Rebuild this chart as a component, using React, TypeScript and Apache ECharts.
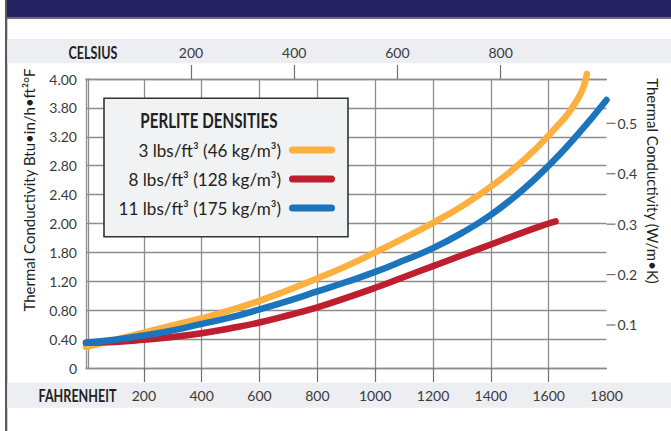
import React, { useEffect, useRef } from "react";
import * as echarts from "echarts";

// Fahrenheit sample positions for each curve
const fLight = [0, 100, 200, 300, 400, 500, 600, 700, 800, 900, 1000, 1100, 1200, 1300, 1400, 1500, 1600, 1700, 1732];
const kLight = [0.29, 0.39, 0.49, 0.59, 0.69, 0.8, 0.93, 1.08, 1.24, 1.41, 1.6, 1.8, 2.01, 2.24, 2.51, 2.83, 3.22, 3.72, 4.07];

const fMedium = [0, 100, 200, 300, 400, 500, 600, 700, 800, 900, 1000, 1100, 1200, 1300, 1400, 1500, 1600, 1624];
const kMedium = [0.35, 0.36, 0.39, 0.43, 0.48, 0.55, 0.63, 0.73, 0.84, 0.97, 1.11, 1.26, 1.41, 1.56, 1.71, 1.86, 2.0, 2.03];

const fHeavy = [0, 100, 200, 300, 400, 500, 600, 700, 800, 900, 1000, 1100, 1200, 1300, 1400, 1500, 1600, 1700, 1800];
const kHeavy = [0.35, 0.39, 0.45, 0.52, 0.61, 0.7, 0.81, 0.93, 1.06, 1.19, 1.33, 1.49, 1.66, 1.87, 2.12, 2.43, 2.8, 3.23, 3.71];

const seriesNames = ["3 lbs/ft³ (46 kg/m³)", "8 lbs/ft³ (128 kg/m³)", "11 lbs/ft³ (175 kg/m³)"];
const seriesColors = ["#fbb040", "#be1e2d", "#1c75bc"];

// Tick labels as printed on the original
const yTickLabels = ["0", "0.40", "0.80", "1.20", "1.80", "2.00", "2.40", "2.80", "3.20", "3.80", "4.00"];
const fahrenheitTicks = [200, 400, 600, 800, 1000, 1200, 1400, 1600, 1800];
const fahrenheitTickMarks = [200, 400, 600, 800, 1000, 1200, 1400, 1600];
const celsiusTicks = [200, 400, 600, 800];
const wmkTicks = [0.1, 0.2, 0.3, 0.4, 0.5];

const FONT = "Lato, 'Open Sans', sans-serif";
const GRID = "#8d8d8d";
const LABEL = "#3a3a3c";
const TICK = "#6d6e71";

const pairs = (xs: number[], ys: number[]) => xs.map((x, i) => [x, ys[i]]);

export default function App() {
  const ref = useRef<HTMLDivElement>(null);
  useEffect(() => {
    if (!ref.current) return;
    const chart = echarts.init(ref.current, null, { renderer: "svg" });
    const data = [pairs(fLight, kLight), pairs(fMedium, kMedium), pairs(fHeavy, kHeavy)];
    const legendRowsY = [150, 179, 208];
    const baseGraphic: any[] = [
      { type: "rect", z: -10, shape: { x: 5, y: 0, width: 2.3, height: 431 }, style: { fill: "#58595b" } },
      { type: "rect", z: -10, shape: { x: 7, y: 0, width: 664, height: 17 }, style: { fill: "#262262" } },
      { type: "rect", z: -10, shape: { x: 7, y: 17, width: 664, height: 2 }, style: { fill: "#6d6e71" } },
      { type: "rect", z: -10, shape: { x: 7.3, y: 39, width: 664, height: 24.3 }, style: { fill: "#eceef1" } },
      { type: "rect", z: -10, shape: { x: 7.3, y: 382.7, width: 664, height: 25 }, style: { fill: "#eceef1" } },
      {
        type: "text", z: 10, x: 93, y: 52, scaleX: 0.74,
        style: { text: "CELSIUS", fill: "#231f20", font: `bold 17px ${FONT}`, textAlign: "center", textVerticalAlign: "middle" },
      },
      {
        type: "text", z: 10, x: 77.5, y: 395, scaleX: 0.74,
        style: { text: "FAHRENHEIT", fill: "#231f20", font: `bold 17px ${FONT}`, textAlign: "center", textVerticalAlign: "middle" },
      },
      {
        type: "text", z: 10, x: 29, y: 190, rotation: Math.PI / 2,
        style: { text: "Thermal Conductivity Btu•in/h•ft²°F", fill: "#231f20", font: `15px ${FONT}`, textAlign: "center", textVerticalAlign: "middle" },
      },
      {
        type: "text", z: 10, x: 653, y: 181, rotation: -Math.PI / 2,
        style: { text: "Thermal Conductivity (W/m•K)", fill: "#231f20", font: `15px ${FONT}`, textAlign: "center", textVerticalAlign: "middle" },
      },
      {
        type: "rect", z: 20, shape: { x: 104, y: 98.3, width: 244, height: 138.4 },
        style: { fill: "#f1f2f4", stroke: "#333333", lineWidth: 1.6 },
      },
      {
        type: "text", z: 21, x: 209, y: 120, scaleX: 0.76,
        style: { text: "PERLITE DENSITIES", fill: "#231f20", font: `bold 20px ${FONT}`, textAlign: "center", textVerticalAlign: "middle" },
      },
      ...seriesNames.map((n, i) => ({
        type: "text", z: 21, x: 281, y: legendRowsY[i], scaleX: 0.95,
        style: { text: n, fill: "#231f20", font: `18px ${FONT}`, textAlign: "right", textVerticalAlign: "middle" },
      })),
      ...seriesNames.map((_n, i) => ({
        type: "line", z: 21,
        shape: { x1: 292.5, y1: legendRowsY[i], x2: 331.5, y2: legendRowsY[i] },
        style: { stroke: seriesColors[i], lineWidth: 7, lineCap: "round" },
      })),
    ];
    const option: any = {
      animation: false,
      backgroundColor: "#ffffff",
      grid: { left: 86, top: 79, right: 64.5, bottom: 63, containLabel: false },
      xAxis: [
        {
          type: "value",
          position: "bottom",
          min: 0,
          max: 1800,
          interval: 100,
          axisLine: { show: true, lineStyle: { color: GRID, width: 1.3 } },
          axisTick: { show: true, customValues: fahrenheitTickMarks, length: 14, lineStyle: { color: TICK, width: 1.2 } },
          axisLabel: { customValues: fahrenheitTicks, margin: 20, color: LABEL, fontFamily: FONT, fontSize: 14, formatter: (v: number) => String(v) },
          splitLine: { show: true, lineStyle: { color: GRID, width: 1.3 } },
        },
        {
          type: "value",
          position: "top",
          min: -3.5,
          max: 1005.2,
          axisLine: { show: true, lineStyle: { color: GRID, width: 1.3 } },
          axisTick: { show: true, customValues: celsiusTicks, length: 14, lineStyle: { color: TICK, width: 1.2 } },
          axisLabel: { customValues: celsiusTicks, margin: 20, color: LABEL, fontFamily: FONT, fontSize: 14, formatter: (v: number) => String(v) },
          splitLine: { show: false },
        },
      ],
      yAxis: [
        {
          type: "value",
          position: "left",
          min: 0,
          max: 4,
          interval: 0.4,
          axisLine: { show: true, lineStyle: { color: GRID, width: 1.3 } },
          axisTick: { show: false },
          axisLabel: {
            margin: 9,
            color: LABEL,
            fontFamily: FONT,
            fontSize: 14,
            formatter: (v: number) => yTickLabels[Math.round(v / 0.4)] ?? "",
          },
          splitLine: { show: true, lineStyle: { color: GRID, width: 1.3 } },
        },
        {
          type: "value",
          position: "right",
          min: 0.0147,
          max: 0.5879,
          axisLine: { show: true, lineStyle: { color: GRID, width: 1.3 } },
          axisTick: { show: false },
          axisLabel: {
            customValues: wmkTicks,
            margin: 11,
            color: LABEL,
            fontFamily: FONT,
            fontSize: 14,
            formatter: (v: number) => v.toFixed(1),
          },
          splitLine: { show: false },
        },
      ],
      series: data.map((d, i) => ({
        name: seriesNames[i],
        type: "line",
        xAxisIndex: 0,
        yAxisIndex: 0,
        data: d,
        smooth: true,
        showSymbol: false,
        clip: false,
        lineStyle: { color: seriesColors[i], width: 6.5, cap: "round", join: "round" },
        z: 3 + i,
      })),
      graphic: baseGraphic,
    };
    chart.setOption(option);
    // Right-axis tick marks, positioned through the axis scale
    const xRight = chart.convertToPixel({ xAxisIndex: 0 }, 1800) as number;
    const tickMarks = wmkTicks.map((v) => {
      const y = chart.convertToPixel({ yAxisIndex: 1 }, v) as number;
      return {
        type: "line", z: 5,
        shape: { x1: xRight, y1: y, x2: xRight + 9, y2: y },
        style: { stroke: TICK, lineWidth: 1.2 },
      };
    });
    chart.setOption({ graphic: [...baseGraphic, ...tickMarks] });
    return () => chart.dispose();
  }, []);
  return <div ref={ref} style={{ width: 671, height: 431, position: "absolute", left: 0, top: 0 }} />;
}
